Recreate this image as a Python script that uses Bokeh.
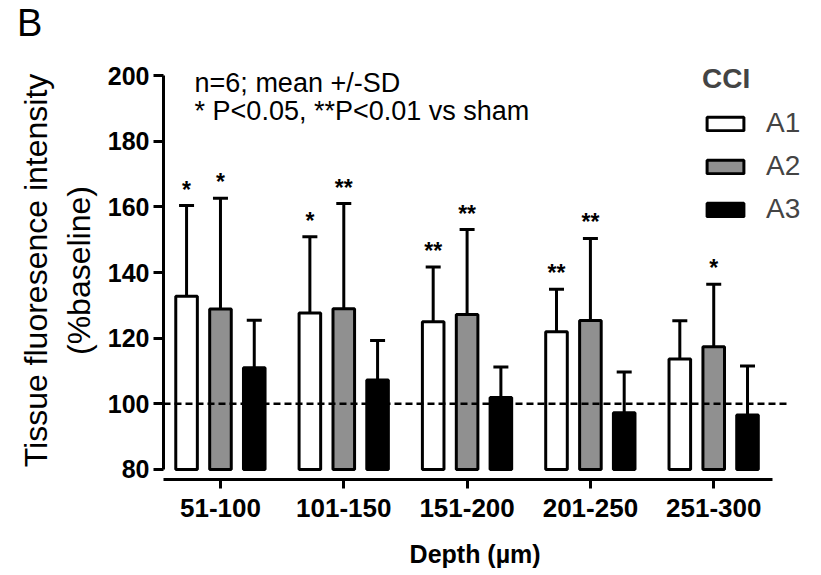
from bokeh.plotting import figure
from bokeh.models import (ColumnDataSource, Range1d, FixedTicker, Whisker, TeeHead,
                          Legend, LegendItem, Label, Div)
from bokeh.layouts import column
from bokeh.core.properties import value
from bokeh.embed import file_html
from bokeh.resources import INLINE

# ---------------- data ----------------
depths = ["51-100", "101-150", "151-200", "201-250", "251-300"]
series = ["A1", "A2", "A3"]
a1_mean = [132.8, 127.7, 125.0, 122.0, 113.7]
a2_mean = [128.9, 129.0, 127.2, 125.4, 117.4]
a3_mean = [111.0, 107.3, 101.9, 97.3, 96.6]
a1_upper = [160.4, 150.9, 141.7, 134.9, 125.3]
a2_upper = [162.6, 161.0, 153.1, 150.4, 136.4]
a3_upper = [125.5, 119.3, 111.2, 109.7, 111.5]
a1_stars = ["*", "*", "**", "**", ""]
a2_stars = ["*", "**", "**", "**", "*"]
a3_stars = ["", "", "", "", ""]
y_ticks = [80, 100, 120, 140, 160, 180, 200]
baseline = 100

FONT = "Liberation Sans"
fills = ["white", "#909090", "black"]
offsets = [-0.275, 0.0, 0.274]
X0, X1 = -0.462, 4.874
HEAD = 46

panel_label = Div(text='<div style="font-family:\'Liberation Sans\';font-size:38px;'
                       'line-height:38px;height:38px;padding:0;margin:0;position:relative;'
                       'left:17px;top:4px;color:black;">B</div>',
                  width=821, height=HEAD, margin=0)

p = figure(width=821, height=575 - HEAD, output_backend="svg", toolbar_location=None,
           x_range=Range1d(X0, X1), y_range=Range1d(76.95, 204.3),
           min_border_left=163, min_border_right=0, min_border_top=61 - HEAD, min_border_bottom=96)
p.outline_line_color = None
p.xgrid.visible = False
p.ygrid.visible = False
p.background_fill_color = "white"
p.border_fill_color = "white"

means = [a1_mean, a2_mean, a3_mean]
uppers = [a1_upper, a2_upper, a3_upper]
stars = [a1_stars, a2_stars, a3_stars]
renderers = []
for k in range(3):
    xs = [i + offsets[k] for i in range(len(depths))]
    src = ColumnDataSource(dict(x=xs, top=means[k], upper=uppers[k], star=stars[k]))
    w = Whisker(source=src, base="x", lower="top", upper="upper", dimension="height",
                line_width=3, line_color="black",
                upper_head=TeeHead(size=15, line_width=3, line_color="black"), lower_head=None,
                level="underlay")
    p.add_layout(w)
    r = p.vbar(x="x", top="top", bottom=80, width=0.175, source=src,
               fill_color=fills[k], line_color="black", line_width=3)
    renderers.append(r)
    p.text(x="x", y="upper", text="star", source=src, text_align="center",
           text_baseline="bottom", text_font=value(FONT), text_font_size="23px",
           text_font_style="bold", text_color="black", y_offset=-3)

# dashed baseline reference (100 %)
p.segment(x0=[X0], x1=[4.607], y0=[baseline], y1=[baseline], line_color="black",
          line_width=2.5, line_dash="7 4")

# axes
ya = p.yaxis[0]
ya.ticker = FixedTicker(ticks=y_ticks)
ya.bounds = (80, 200)
ya.axis_line_width = 3
ya.major_tick_line_width = 3
ya.major_tick_out = 10
ya.major_tick_in = 0
ya.minor_tick_line_color = None
ya.major_label_text_font = FONT
ya.major_label_text_font_size = "25px"
ya.major_label_text_font_style = "bold"
ya.major_label_text_color = "black"
ya.major_label_standoff = 4
ya.axis_label = "Tissue fluoresence intensity\n(%baseline)"
ya.axis_label_text_font = FONT
ya.axis_label_text_font_size = "32px"
ya.axis_label_text_font_style = "normal"
ya.axis_label_text_color = "black"
ya.axis_label_standoff = 8

xa = p.xaxis[0]
xa.ticker = FixedTicker(ticks=list(range(len(depths))))
xa.major_label_overrides = {i: d for i, d in enumerate(depths)}
xa.bounds = (X0, 4.477)
xa.axis_line_width = 3
xa.major_tick_line_width = 3
xa.major_tick_out = 9
xa.major_tick_in = 0
xa.minor_tick_line_color = None
xa.major_label_text_font = FONT
xa.major_label_text_font_size = "26px"
xa.major_label_text_font_style = "bold"
xa.major_label_text_color = "black"
xa.major_label_standoff = 10
xa.axis_label = "Depth (µm)" + "\u00a0" * 5
xa.axis_label_text_font = FONT
xa.axis_label_text_font_size = "25px"
xa.axis_label_text_font_style = "bold"
xa.axis_label_text_color = "black"
xa.axis_label_standoff = 20

# notes
p.add_layout(Label(x=-0.21, y=197.6, text="n=6; mean +/-SD", text_font=FONT,
                   text_font_size="27px", text_baseline="middle", text_color="black"))
p.add_layout(Label(x=-0.21, y=189.35, text="* P<0.05, **P<0.01 vs sham", text_font=FONT,
                   text_font_size="27px", text_baseline="middle", text_color="black"))

legend = Legend(items=[LegendItem(label=s, renderers=[r]) for s, r in zip(series, renderers)],
                location=(539, 254), title="CCI")
legend.title_text_font = FONT
legend.title_text_font_size = "28px"
legend.title_text_font_style = "bold"
legend.title_standoff = 12
legend.label_text_font = FONT
legend.label_text_font_size = "28px"
legend.glyph_width = 46
legend.glyph_height = 17
legend.label_standoff = 18
legend.spacing = 11
legend.padding = 0
legend.margin = 0
legend.border_line_color = None
legend.background_fill_alpha = 0
p.add_layout(legend)

layout = column(panel_label, p, spacing=0)
open("out.html", "w").write(file_html(layout, INLINE))
